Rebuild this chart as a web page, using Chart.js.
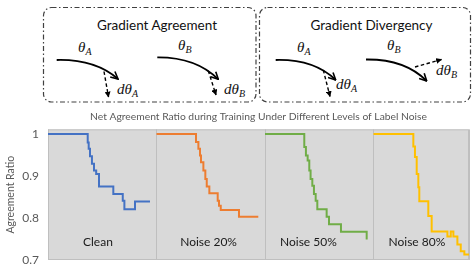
<!DOCTYPE html>
<html>
<head>
<meta charset="utf-8">
<script src="https://cdn.jsdelivr.net/npm/chart.js@4"></script>
<style>
  body { margin: 0; background: #fff; }
  #wrap { position: relative; width: 474px; height: 268px; overflow: hidden; }
  #diagram { position: absolute; left: 0; top: 0; }
  #plot { position: absolute; left: 0; top: 104px; width: 474px; height: 164px; }
  .box { fill: none; stroke: #404040; stroke-width: 1.2; stroke-dasharray: 5 2.5 1.5 2.5; }
  .hd { font-family: Lato, sans-serif; font-size: 13.5px; fill: #111; text-anchor: middle; }
  .th { font-family: "Liberation Serif", serif; font-style: italic; font-size: 15px; fill: #111; }
  .sub { font-size: 10px; }
  .cv { fill: none; stroke: #000; stroke-width: 1.8; }
  .ds { fill: none; stroke: #000; stroke-width: 1.4; stroke-dasharray: 3.5 2.5; }
</style>
</head>
<body>
<div id="wrap">
  <svg id="diagram" width="474" height="106">
    <defs>
      <marker id="ah" viewBox="0 0 10 10" refX="9" refY="5" markerWidth="9" markerHeight="9" markerUnits="userSpaceOnUse" orient="auto">
        <path d="M1,1 L9,5 L1,9" fill="none" stroke="#000" stroke-width="1.8"/>
      </marker>
      <marker id="dh" viewBox="0 0 10 10" refX="9" refY="5" markerWidth="6" markerHeight="6" markerUnits="userSpaceOnUse" orient="auto">
        <path d="M0,0 L10,5 L0,10 z" fill="#000"/>
      </marker>
    </defs>

    <!-- agreement box -->
    <rect class="box" x="43.5" y="7.5" width="212.5" height="94.5" rx="8"/>
    <text class="hd" x="157" y="29.5">Gradient Agreement</text>
    <path class="cv" d="M56.7,60 Q95,59 118,79" marker-end="url(#ah)"/>
    <path class="ds" d="M104,71.5 L108.5,97" marker-end="url(#dh)"/>
    <text class="th" x="78" y="52">θ<tspan class="sub" dy="3">A</tspan></text>
    <text class="th" x="117" y="94">dθ<tspan class="sub" dy="3">A</tspan></text>
    <path class="cv" d="M157.3,57.3 Q196,57 218.3,79.3" marker-end="url(#ah)"/>
    <path class="ds" d="M208.3,70.7 L216,95" marker-end="url(#dh)"/>
    <text class="th" x="178" y="50">θ<tspan class="sub" dy="3">B</tspan></text>
    <text class="th" x="224" y="94">dθ<tspan class="sub" dy="3">B</tspan></text>

    <!-- divergency box -->
    <rect class="box" x="259.5" y="7.5" width="211" height="94.5" rx="8"/>
    <text class="hd" x="371.5" y="29.5">Gradient Divergency</text>
    <path class="cv" d="M275.7,60 Q314,59 335.7,80" marker-end="url(#ah)"/>
    <path class="ds" d="M323.3,70 L330,96.5" marker-end="url(#dh)"/>
    <text class="th" x="297" y="52">θ<tspan class="sub" dy="3">A</tspan></text>
    <text class="th" x="336" y="89">dθ<tspan class="sub" dy="3">A</tspan></text>
    <path class="cv" d="M366,59.5 Q405,59 426.7,81" marker-end="url(#ah)"/>
    <path class="ds" d="M415,67 L441.5,59.5" marker-end="url(#dh)"/>
    <text class="th" x="387" y="50">θ<tspan class="sub" dy="3">B</tspan></text>
    <text class="th" x="436" y="75">dθ<tspan class="sub" dy="3">B</tspan></text>
  </svg>
  <div id="plot"><canvas id="chart"></canvas></div>
</div>

<script>
// step curves: x = training progress where the ratio changes, y = new ratio
const panels = ["Clean", "Noise 20%", "Noise 50%", "Noise 80%"];
const colors = ["#4472C4", "#ED7D31", "#70AD47", "#FFC000"];

const cleanX = [0, 36.6, 37.5, 38.7, 40.5, 42.4, 44.4, 47, 60.2, 68.9, 70.4, 80.2, 94];
const cleanY = [1, 0.98, 0.965, 0.947, 0.929, 0.913, 0.905, 0.875, 0.857, 0.841, 0.821, 0.839, 0.839];

const noise20X = [0, 36.4, 38.6, 40.1, 41, 43.2, 45, 46.3, 48.7, 56.4, 57.6, 59.2, 76, 93.8];
const noise20Y = [1, 0.981, 0.965, 0.949, 0.933, 0.913, 0.893, 0.875, 0.859, 0.841, 0.829, 0.819, 0.803, 0.803];

const noise50X = [0, 36.2, 37.7, 39.3, 40.8, 42, 43.6, 45.1, 46.7, 48.2, 56.8, 59, 70, 93.7];
const noise50Y = [1, 0.969, 0.949, 0.937, 0.913, 0.893, 0.877, 0.857, 0.841, 0.821, 0.803, 0.785, 0.767, 0.749];

const noise80X = [0, 36.7, 38.2, 39.8, 41.3, 42.2, 50.5, 53.6, 68.1, 71.2, 73.6, 77.3, 80.4, 83.7, 88.1];
const noise80Y = [1, 0.97, 0.945, 0.905, 0.873, 0.84, 0.805, 0.768, 0.756, 0.768, 0.756, 0.737, 0.721, 0.713, 0.713];

const yTicks = [0.7, 0.8, 0.9, 1];
const panelEdges = [0, 100, 200, 300, 388];

// where the panel names sit (data coords)
const labelX = [46, 148, 240, 340];
const labelY = 0.743;

const seriesX = [cleanX, noise20X, noise50X, noise80X];
const seriesY = [cleanY, noise20Y, noise50Y, noise80Y];

const datasets = panels.map((name, i) => ({
    label: name,
    data: seriesX[i].map((x, j) => ({ x: panelEdges[i] + x, y: seriesY[i][j] })),
    borderColor: colors[i],
    borderWidth: 2,
    stepped: true,
    pointRadius: 0,
    fill: false
}));

const panelBg = {
    id: "panelBg",
    beforeDraw(chart) {
        const a = chart.chartArea;
        const ctx = chart.ctx;
        ctx.save();
        ctx.fillStyle = "#d9d9d9";
        ctx.fillRect(a.left, a.top, a.right - a.left, a.bottom - a.top);
        ctx.strokeStyle = "#bfbfbf";
        ctx.lineWidth = 1;
        ctx.strokeRect(a.left + 0.5, a.top + 0.5, a.right - a.left - 1, a.bottom - a.top - 1);
        ctx.restore();
    },
    afterDatasetsDraw(chart) {
        const ctx = chart.ctx;
        const xs = chart.scales.x, ys = chart.scales.y;
        ctx.save();
        ctx.font = "12px Lato";
        ctx.fillStyle = "#1a1a1a";
        ctx.textAlign = "center";
        ctx.textBaseline = "middle";
        panels.forEach((name, i) => {
            ctx.fillText(name, xs.getPixelForValue(labelX[i]), ys.getPixelForValue(labelY));
        });
        ctx.restore();
    }
};

new Chart(document.getElementById("chart"), {
    type: "line",
    data: { datasets },
    options: {
        responsive: true,
        maintainAspectRatio: false,
        animation: false,
        layout: { padding: { left: 2, right: 5, top: 0, bottom: 8 } },
        plugins: {
            legend: { display: false },
            tooltip: { enabled: false },
            title: {
                display: true,
                fullSize: false,
                text: "Net Agreement Ratio during Training Under Different Levels of Label Noise",
                color: "#595959",
                font: { family: "Lato", size: 10.3, weight: "normal" },
                padding: { top: 6, bottom: 7 }
            }
        },
        scales: {
            x: {
                type: "linear",
                min: 0,
                max: 388,
                afterBuildTicks: s => { s.ticks = panelEdges.map(v => ({ value: v })); },
                ticks: { display: false },
                grid: { color: "#bfbfbf", drawTicks: false },
                border: { display: false }
            },
            y: {
                min: 0.7,
                max: 1.011,
                afterBuildTicks: s => { s.ticks = yTicks.map(v => ({ value: v })); },
                afterFit: s => { s.width = 46; s.paddingTop = 0; s.paddingBottom = 0; },
                ticks: {
                    padding: 9,
                    color: "#595959",
                    font: { family: "Lato", size: 12 },
                    callback: v => (v === 1 ? "1" : v.toFixed(1))
                },
                grid: { display: false, drawTicks: false },
                border: { display: false },
                title: {
                    display: true,
                    text: "Agreement Ratio",
                    color: "#595959",
                    font: { family: "Lato", size: 10.5 },
                    padding: { top: 2, bottom: 0 }
                }
            }
        }
    },
    plugins: [panelBg]
});
</script>
</body>
</html>
